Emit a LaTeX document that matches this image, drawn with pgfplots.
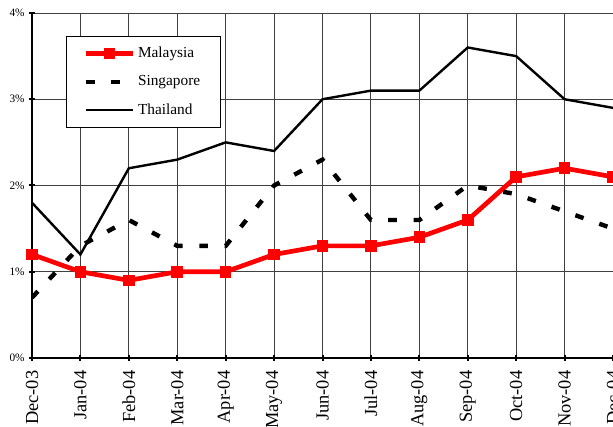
\documentclass[border=0pt]{standalone}
\usepackage{fontspec}
\setmainfont{Liberation Serif}
\usepackage{pgfplots}
\pgfplotsset{compat=1.18}

\begin{document}
\begin{tikzpicture}
\useasboundingbox (-24pt,-51.75pt) rectangle (435.75pt,268.5pt);
\clip (-24pt,-51.75pt) rectangle (435.75pt,268.5pt);
\begin{axis}[
  scale only axis,
  width=435.75pt, height=258.75pt,
  xmin=0, xmax=12, ymin=0, ymax=4,
  axis x line=bottom, axis y line=left,
  axis line style={line width=2pt, -},
  xtick={0,...,12},
  xticklabels={Dec-03,Jan-04,Feb-04,Mar-04,Apr-04,May-04,Jun-04,Jul-04,Aug-04,Sep-04,Oct-04,Nov-04,Dec-04},
  x tick label style={rotate=90, anchor=east, font=\fontsize{13.8}{14}\selectfont, xshift=-0pt},
  xticklabel shift=4pt,
  ytick={0,1,2,3,4},
  yticklabels={0\%,1\%,2\%,3\%,4\%},
  y tick label style={font=\fontsize{8.5}{9}\selectfont},
  tick align=center,
  major tick length=4pt,
  tick style={line width=1.5pt, black},
  grid=major,
  grid style={line width=0.7pt, black!75},
  legend style={at={(0.0585,0.933)}, anchor=north west, draw=black, line width=0.5pt,
    font=\fontsize{11.5}{11.5}\selectfont, row sep=8pt, inner xsep=13pt, inner ysep=6pt},
  legend cell align=left,
  legend image code/.code={%
    \draw[mark repeat=2, mark phase=2, #1] plot coordinates {(0cm,0cm) (0.62cm,0cm) (1.24cm,0cm)};},
]
\addplot[red, line width=3.5pt, mark=square*, mark size=2.6pt, mark options={solid}] coordinates {
  (0,1.2) (1,1.0) (2,0.9) (3,1.0) (4,1.0) (5,1.2) (6,1.3) (7,1.3) (8,1.4) (9,1.6) (10,2.1) (11,2.2) (12,2.1)
};
\addlegendentry{Malaysia}
\addplot[black, line width=3.3pt, dash pattern=on 6.5pt off 12.5pt] coordinates {
  (0,0.7) (1,1.3) (2,1.6) (3,1.3) (4,1.3) (5,2.0) (6,2.3) (7,1.6) (8,1.6) (9,2.0) (10,1.9) (11,1.7) (12,1.5)
};
\addlegendentry{Singapore}
\addplot[black, line width=1.8pt] coordinates {
  (0,1.8) (1,1.2) (2,2.2) (3,2.3) (4,2.5) (5,2.4) (6,3.0) (7,3.1) (8,3.1) (9,3.6) (10,3.5) (11,3.0) (12,2.9)
};
\addlegendentry{Thailand}
\end{axis}
\end{tikzpicture}
\end{document}
